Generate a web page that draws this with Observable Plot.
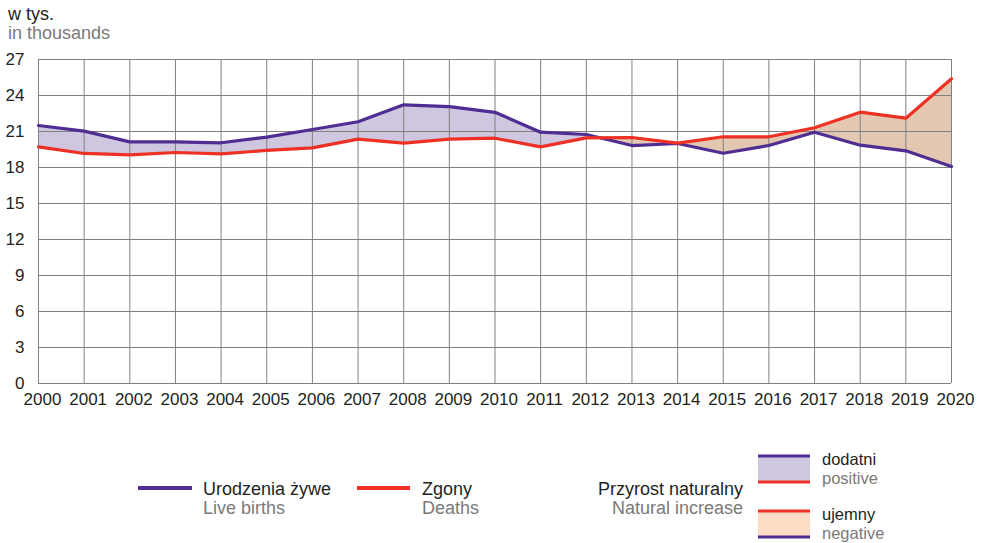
<!DOCTYPE html>
<html>
<head>
<meta charset="utf-8">
<script src="https://cdn.jsdelivr.net/npm/d3@7"></script>
<script src="https://cdn.jsdelivr.net/npm/@observablehq/plot@0.6"></script>
<style>
  html, body { margin: 0; padding: 0; background: #fff; }
  body { width: 984px; height: 543px; position: relative; overflow: hidden; font-family: "Liberation Sans", Arial, sans-serif; color: #231f20; }
  #chart { position: absolute; left: 0; top: 0; }
  .t { position: absolute; font-size: 18px; line-height: 17px; white-space: nowrap; }
  .g { color: #7a7a7a; }
  #legend { position: absolute; left: 0; top: 420px; }
</style>
</head>
<body>
<div class="t" style="left:8px; top:6px;">w tys.</div>
<div class="t g" style="left:8px; top:25px;">in thousands</div>
<div id="chart"></div>
<svg id="legend" width="984" height="123"></svg>
<script>
const years = [2000,2001,2002,2003,2004,2005,2006,2007,2008,2009,2010,2011,2012,2013,2014,2015,2016,2017,2018,2019,2020];
const births = [21.5,21.03,20.14,20.14,20.06,20.53,21.17,21.81,23.22,23.08,22.6,20.94,20.75,19.83,20.0,19.19,19.83,20.94,19.86,19.39,18.08];
const deaths = [19.72,19.17,19.06,19.25,19.14,19.42,19.64,20.36,20.03,20.36,20.44,19.72,20.47,20.5,20.03,20.56,20.56,21.31,22.61,22.11,25.39];
const yTicks = [0,3,6,9,12,15,18,21,24,27];

const purple = "#4f2d92";
const red = "#ee3124";
const posFill = "#cfc6e0";
const negFill = "#e3c7b1";
const negFillLegend = "#fcdcc5";

const rows = years.map((y, i) => ({year: y, births: births[i], deaths: deaths[i]}));
// insert crossing points so each band segment has constant sign
const band = [];
for (let i = 0; i < rows.length; i++) {
  band.push(rows[i]);
  if (i < rows.length - 1) {
    const a = rows[i], b = rows[i + 1];
    const d0 = a.births - a.deaths, d1 = b.births - b.deaths;
    if (d0 * d1 < 0) {
      const t = d0 / (d0 - d1);
      const v = a.births + t * (b.births - a.births);
      band.push({year: a.year + t * (b.year - a.year), births: v, deaths: v});
    }
  }
}

const chart = Plot.plot({
  width: 984,
  height: 420,
  marginLeft: 38,
  marginRight: 33,
  marginTop: 59,
  marginBottom: 37,
  style: {fontFamily: "Liberation Sans, Arial, sans-serif", color: "#231f20", background: "transparent"},
  x: {domain: [2000, 2020]},
  y: {domain: [0, 27]},
  marks: [
    Plot.areaY(band, {x: "year", y1: d => d.deaths, y2: d => Math.max(d.births, d.deaths), fill: posFill}),
    Plot.areaY(band, {x: "year", y1: d => Math.min(d.births, d.deaths), y2: d => d.deaths, fill: negFill}),
    Plot.gridX(years, {stroke: "#808080", strokeOpacity: 1, strokeWidth: 1}),
    Plot.gridY(yTicks, {stroke: "#808080", strokeOpacity: 1, strokeWidth: 1}),
    Plot.ruleX([2000], {stroke: "#808080"}),
    Plot.ruleY([0], {stroke: "#808080"}),
    Plot.lineY(rows, {x: "year", y: "births", stroke: purple, strokeWidth: 3.2}),
    Plot.lineY(rows, {x: "year", y: "deaths", stroke: red, strokeWidth: 3.2}),
    Plot.axisX(years, {tickSize: 0, tickPadding: 9, fontSize: 17, dx: 4, tickFormat: d => String(d), label: null, fill: "#231f20"}),
    Plot.axisY(yTicks, {tickSize: 0, tickPadding: 14, fontSize: 17, label: null, fill: "#231f20"})
  ]
});
document.getElementById("chart").appendChild(chart);

// Legend
const lg = d3.select("#legend");
const oy = 420;
const txt = (x, y, s, gray, anchor, fs) => lg.append("text").attr("x", x).attr("y", y - oy)
  .attr("font-size", fs || 18).attr("font-family", "Liberation Sans, Arial, sans-serif")
  .attr("fill", gray ? "#7a7a7a" : "#231f20").attr("text-anchor", anchor || "start").text(s);
const ln = (x1, x2, y, c, w) => lg.append("line").attr("x1", x1).attr("x2", x2).attr("y1", y - oy).attr("y2", y - oy)
  .attr("stroke", c).attr("stroke-width", w);

ln(138, 192, 488, purple, 4);
txt(203, 495, "Urodzenia żywe");
txt(203, 514, "Live births", true);
ln(357, 410, 488, red, 4);
txt(422, 495, "Zgony");
txt(422, 514, "Deaths", true);
txt(743, 495, "Przyrost naturalny", false, "end");
txt(743, 514, "Natural increase", true, "end");

lg.append("rect").attr("x", 758).attr("y", 456 - oy).attr("width", 52).attr("height", 26).attr("fill", posFill);
ln(758, 810, 456, purple, 3);
ln(758, 810, 482, red, 3);
txt(822, 465, "dodatni", false, "start", 16.5);
txt(822, 484, "positive", true, "start", 16.5);

lg.append("rect").attr("x", 758).attr("y", 511 - oy).attr("width", 52).attr("height", 26).attr("fill", negFillLegend);
ln(758, 810, 511, red, 3);
ln(758, 810, 537, purple, 3);
txt(822, 520, "ujemny", false, "start", 16.5);
txt(822, 539, "negative", true, "start", 16.5);
</script>
</body>
</html>
